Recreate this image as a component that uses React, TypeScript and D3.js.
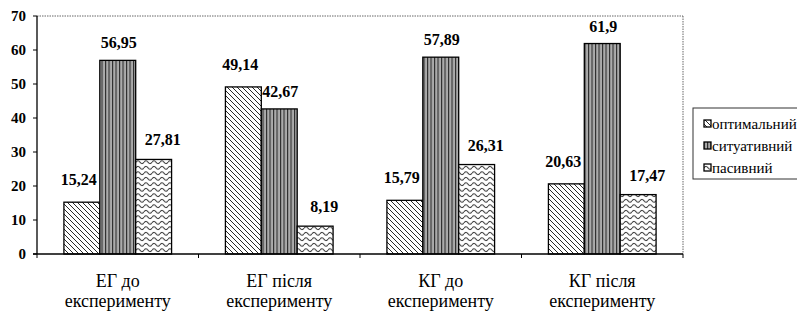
import React from "react";
import * as d3 from "d3";

const categories = [["ЕГ до", "експерименту"], ["ЕГ після", "експерименту"], ["КГ до", "експерименту"], ["КГ після", "експерименту"]];
const seriesNames = ["оптимальний", "ситуативний", "пасивний"];
const optimal = [15.24, 49.14, 15.79, 20.63];
const situational = [56.95, 42.67, 57.89, 61.9];
const passive = [27.81, 8.19, 26.31, 17.47];
const yTicks = [0, 10, 20, 30, 40, 50, 60, 70];

const W = 805, H = 312;
const plot = { left: 37, right: 683, top: 16, bottom: 254 };
const patterns = ["pDiag", "pVert", "pWave"];
const labelDx = [-3, 1, 9];
const labelDy = [-17, -12, -14];
const FONT = "Liberation Serif";

export default function App() {
  const series = [optimal, situational, passive];
  const x0 = d3.scaleBand<number>().domain(d3.range(categories.length)).range([plot.left, plot.right]).paddingInner(0).paddingOuter(0);
  const bw = x0.bandwidth() / 4.5;
  const x1 = d3.scaleBand<number>().domain([0, 1, 2]).range([0, bw * 3]);
  const groupOff = (x0.bandwidth() - bw * 3) / 2;
  const y = d3.scaleLinear().domain([0, 70]).range([plot.bottom, plot.top]);
  const fmt = (v: number) => String(v).replace(".", ",");

  return (
    <div style={{ fontFamily: "'Liberation Serif'" }}>
    <svg width={W} height={H} style={{ display: "block", marginLeft: -8, marginTop: -8 }}>
      <defs>
        <pattern id="pDiag" patternUnits="userSpaceOnUse" width="5" height="5">
          <rect width="5" height="5" fill="#fff" />
          <path d="M-1,-1 L6,6 M-1,4 L1,6 M4,-1 L6,1" stroke="#111" strokeWidth="0.9" />
        </pattern>
        <pattern id="pVert" patternUnits="userSpaceOnUse" width="3.5" height="10">
          <rect width="3.5" height="10" fill="#ababab" />
          <rect x="0" width="1.1" height="10" fill="#2a2a2a" />
        </pattern>
        <pattern id="pWave" patternUnits="userSpaceOnUse" width="8" height="5.5">
          <rect width="8" height="5.5" fill="#fff" />
          <path d="M0,2.75 Q2,0 4,2.75 T8,2.75" fill="none" stroke="#111" strokeWidth="1" />
        </pattern>
      </defs>
      <rect x={0} y={0} width={W} height={H} fill="#fff" />
      <line x1={plot.left} x2={plot.right} y1={plot.top} y2={plot.top} stroke="#666" strokeDasharray="1.5,1" />
      <line x1={plot.right} x2={plot.right} y1={plot.top} y2={plot.bottom} stroke="#666" strokeDasharray="1.5,1" />
      {categories.map((_, ci) =>
        series.map((s, si) => {
          const bx = (x0(ci) as number) + groupOff + (x1(si) as number);
          const by = y(s[ci]);
          return (
            <g key={`${ci}-${si}`}>
              <rect x={bx} y={by} width={x1.bandwidth()} height={plot.bottom - by} fill={`url(#${patterns[si]})`} stroke="#000" strokeWidth={1.3} />
              <text x={bx + x1.bandwidth() / 2 + labelDx[si]} y={by + labelDy[si]} textAnchor="middle" fontSize={16} fontWeight="bold" fontFamily={FONT}>{fmt(s[ci])}</text>
            </g>
          );
        })
      )}
      <line x1={plot.left} x2={plot.left} y1={plot.top} y2={plot.bottom} stroke="#000" strokeWidth={1.3} />
      <line x1={plot.left - 4} x2={plot.right} y1={plot.bottom} y2={plot.bottom} stroke="#000" strokeWidth={1.3} />
      {yTicks.map(t => (
        <g key={t}>
          <line x1={plot.left - 4} x2={plot.left} y1={y(t)} y2={y(t)} stroke="#000" />
          <text x={26} y={y(t) + 5} textAnchor="end" fontSize={15} fontWeight="bold" fontFamily={FONT}>{t}</text>
        </g>
      ))}
      {d3.range(categories.length + 1).map(i => {
        const xx = plot.left + i * x0.bandwidth();
        return <line key={i} x1={xx} x2={xx} y1={plot.bottom} y2={plot.bottom + 4} stroke="#000" />;
      })}
      {categories.map((c, ci) => (
        <text key={ci} textAnchor="middle" fontSize={18} fontFamily={FONT}>
          <tspan x={(x0(ci) as number) + x0.bandwidth() / 2} y={287}>{c[0]}</tspan>
          <tspan x={(x0(ci) as number) + x0.bandwidth() / 2} y={307}>{c[1]}</tspan>
        </text>
      ))}
      <rect x={693} y={108} width={111} height={71} fill="#fff" stroke="#333" strokeWidth={1} />
      {seriesNames.map((n, i) => (
        <g key={n}>
          <rect x={704} y={120 + i * 22} width={7} height={7} fill={`url(#${patterns[i]})`} stroke="#000" strokeWidth={1.3} />
          <text x={712} y={129 + i * 22} fontSize={15} fontFamily={FONT}>{n}</text>
        </g>
      ))}
    </svg>
    </div>
  );
}
